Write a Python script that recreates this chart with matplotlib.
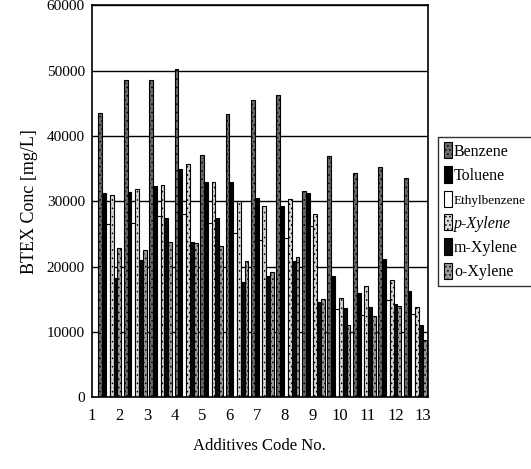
import matplotlib.pyplot as plt
import numpy as np

# Values (mg/L)
codes = [str(i) for i in range(1, 14)]
benzene = [43500, 48500, 48500, 50300, 37000, 43300, 45500, 46300, 31600, 36900, 34300, 35200, 33500]
toluene = [31200, 31400, 32300, 35000, 33000, 33000, 30500, 29200, 31300, 18500, 16000, 21200, 16300]
ethylbenzene = [26500, 26600, 27700, 28100, 26600, 25100, 24000, 24300, 26200, 13500, 12600, 14900, 12700]
p_xylene = [31000, 31800, 32500, 35700, 33000, 30100, 29200, 30400, 28000, 15200, 17000, 18000, 13800]
m_xylene = [18200, 21000, 27500, 23800, 27400, 17700, 18500, 20800, 14500, 13700, 13800, 14300, 11000]
o_xylene = [22800, 22600, 23700, 23600, 23100, 20900, 19200, 21500, 15000, 11000, 12500, 14000, 8800]

series = [
    ("Benzene", benzene, "#6a6a6a", "...."),
    ("Toluene", toluene, "#000000", None),
    ("Ethylbenzene", ethylbenzene, "#ffffff", None),
    ("p-Xylene", p_xylene, "#d8d8d8", "...."),
    ("m-Xylene", m_xylene, "#0a0a0a", None),
    ("o-Xylene", o_xylene, "#9a9a9a", "...."),
]

plt.rcParams['font.family'] = ['Liberation Serif', 'DejaVu Serif']
plt.rcParams['hatch.linewidth'] = 0.6

fig = plt.figure(figsize=(5.31, 4.69), dpi=100)
ax = fig.add_axes([0.173, 0.153, 0.633, 0.836])

x = np.arange(len(codes))
w = 0.15
for i, (name, vals, col, hatch) in enumerate(series):
    ax.bar(x + (i - 2.5) * w, vals, width=w, color=col, edgecolor='black',
           linewidth=0.8, hatch=hatch, label=name)

ax.set_xlim(-0.5, len(codes) - 0.5)
ax.set_ylim(0, 60000)
ax.set_yticks(np.arange(0, 60001, 10000))
ax.yaxis.grid(True, color='black', linewidth=1.0)
ax.set_axisbelow(True)
ax.tick_params(axis='y', length=0, labelsize=11, pad=5)
ax.tick_params(axis='x', length=0, labelsize=12, pad=8)

# tick labels sit a little off the group centres, as in the scan
ax.set_xticks(np.linspace(-0.7, 12.3, len(codes)))
ax.set_xticklabels(codes)

for s in ax.spines.values():
    s.set_linewidth(1.2)

ax.set_ylabel("BTEX Conc [mg/L]", fontsize=13, labelpad=6)
ax.set_xlabel("Additives Code No.", fontsize=12, labelpad=10)

leg = ax.legend(loc='upper left', bbox_to_anchor=(1.03, 0.665), frameon=True,
                fancybox=False, edgecolor='black', fontsize=11.5,
                handlelength=0.55, handleheight=1.2, handletextpad=0.1,
                borderpad=0.35, labelspacing=0.42, borderaxespad=0)
leg.get_frame().set_linewidth(1.0)
for t in leg.get_texts():
    if t.get_text() == "Ethylbenzene":
        t.set_fontsize(9.5)
    if t.get_text() == "p-Xylene":
        t.set_fontstyle('italic')

fig.savefig("out.png", dpi=100)
